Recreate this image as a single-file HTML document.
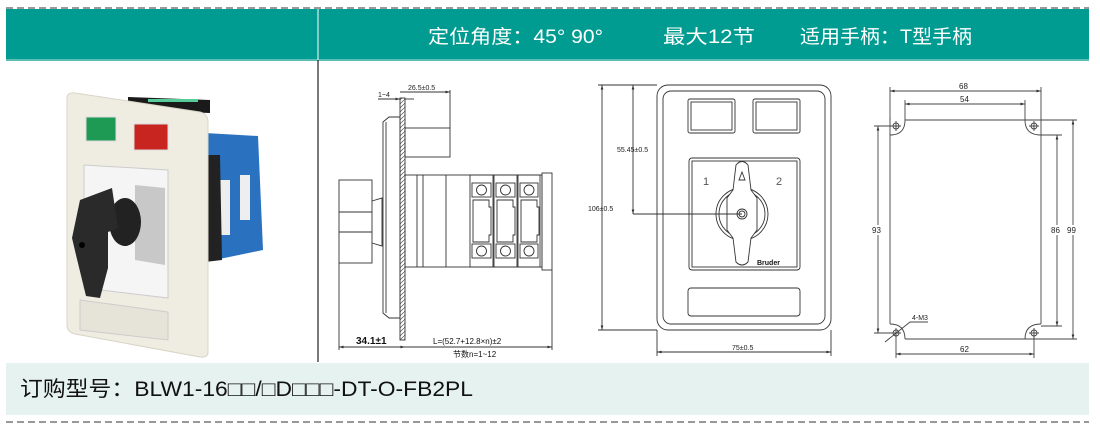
<!DOCTYPE html>
<html><head><meta charset="utf-8"><style>
html,body{margin:0;padding:0;background:#fff;width:1100px;height:428px;overflow:hidden}
svg{display:block}
text{font-family:"Liberation Sans","Noto Sans CJK SC",sans-serif}
</style></head><body>
<svg width="1100" height="428" viewBox="0 0 1100 428" xmlns="http://www.w3.org/2000/svg">
<defs>
<marker id="a" viewBox="0 0 10 10" refX="10" refY="5" markerWidth="5" markerHeight="5" orient="auto-start-reverse"><path d="M0,2L10,5L0,8z" fill="#333"/></marker>
<pattern id="h" width="4" height="4" patternUnits="userSpaceOnUse"><path d="M0,4L4,0" stroke="#555" stroke-width="0.7"/></pattern>
</defs>
<!-- header -->
<line x1="6" y1="8" x2="1089" y2="8" stroke="#999" stroke-width="2" stroke-dasharray="7,4"/>
<rect x="6" y="9" width="1083" height="51" fill="#009c91"/>
<rect x="6" y="59" width="1083" height="2" fill="#5bbdb4"/>
<line x1="318" y1="9" x2="318" y2="60" stroke="#fff" stroke-width="1"/>
<text x="428" y="43" fill="#fff" font-size="19" textLength="175" lengthAdjust="spacingAndGlyphs">定位角度：45°  90°</text>
<text x="663" y="43" fill="#fff" font-size="19" textLength="92" lengthAdjust="spacingAndGlyphs">最大12节</text>
<text x="800" y="43" fill="#fff" font-size="19" textLength="172" lengthAdjust="spacingAndGlyphs">适用手柄：T型手柄</text>
<line x1="318" y1="60" x2="318" y2="362" stroke="#222" stroke-width="1.2"/>
<!-- bottom band -->
<rect x="6" y="363" width="1083" height="52" fill="#e6f2f0"/>
<text x="20" y="396" fill="#111" font-size="21" textLength="453" lengthAdjust="spacingAndGlyphs">订购型号：BLW1-16□□/□D□□□-DT-O-FB2PL</text>
<line x1="6" y1="422" x2="1089" y2="422" stroke="#999" stroke-width="2" stroke-dasharray="7,4"/>

<!-- photo -->
<g>
<path d="M128,97 L210,100 L210,113 L128,110 z" fill="#1a1a1a"/>
<rect x="148" y="99" width="50" height="3" fill="#5c9"/>
<path d="M205,133 L258,136 L263,250 L205,262 z" fill="#2a72c0"/>
<rect x="218" y="180" width="12" height="55" fill="#eee"/>
<rect x="240" y="175" width="10" height="45" fill="#eee"/>
<path d="M205,155 L220,155 L222,260 L205,262 z" fill="#222"/>
<path d="M67,98 Q67,92 75,93 L200,112 Q208,114 208,122 L208,352 Q208,358 200,357 L75,334 Q67,332 67,325 z" fill="#efece2" stroke="#d8d4c6"/>
<rect x="86" y="117" width="30" height="24" fill="#1f9a55" stroke="#ddd"/>
<rect x="134" y="124" width="34" height="26" fill="#c82420" stroke="#ddd"/>
<path d="M84,165 L168,170 L168,298 L84,288 z" fill="#f5f5f5" stroke="#ccc"/>
<path d="M135,185 L165,188 L165,265 L135,260 z" fill="#aaa" opacity="0.6"/>
<ellipse cx="125" cy="222" rx="16" ry="24" fill="#222"/>
<path d="M80,200 L112,188 L118,228 L108,232 L108,268 L100,298 L86,296 L76,255 L72,238 z" fill="#2a2a2a"/>
<circle cx="82" cy="245" r="3" fill="#000"/>
<path d="M80,300 L168,312 L168,340 L80,330 z" fill="#e6e3d8" stroke="#ccc"/>
</g>

<!-- side view -->
<g stroke="#333" stroke-width="0.9" fill="none">
<rect x="400" y="98" width="5" height="242" fill="url(#h)"/>
<path d="M389,117 L400,117 L400,318 L389,318 L383,313 L383,122 z"/>
<line x1="386" y1="122" x2="386" y2="313"/>
<rect x="339" y="180" width="33" height="83"/>
<line x1="339" y1="212" x2="372" y2="212"/><line x1="339" y1="232" x2="372" y2="232"/>
<path d="M372,201 L382,198 L382,246 L372,243"/>
<rect x="405" y="128" width="45" height="29"/>
<rect x="405" y="175" width="137" height="92"/>
<rect x="542" y="173" width="10" height="97"/>
<line x1="417" y1="175" x2="417" y2="267"/><line x1="423" y1="175" x2="423" y2="267"/><line x1="446" y1="175" x2="446" y2="267"/>
<rect x="470" y="175" width="23" height="92"/><rect x="494" y="175" width="23" height="92"/><rect x="518" y="175" width="22" height="92"/>
<g>
<rect x="472" y="183" width="19" height="14"/><circle cx="481.5" cy="190" r="5"/>
<rect x="496" y="183" width="19" height="14"/><circle cx="505.5" cy="190" r="5"/>
<rect x="520" y="183" width="18" height="14"/><circle cx="529" cy="190" r="5"/>
<rect x="472" y="244" width="19" height="14"/><circle cx="481.5" cy="251" r="5"/>
<rect x="496" y="244" width="19" height="14"/><circle cx="505.5" cy="251" r="5"/>
<rect x="520" y="244" width="18" height="14"/><circle cx="529" cy="251" r="5"/>
<path d="M473,200 L489,200 L489,207 L491,207 L491,235 L489,235 L489,242 L473,242z"/>
<path d="M497,200 L513,200 L513,207 L515,207 L515,235 L513,235 L513,242 L497,242z"/>
<path d="M521,200 L537,200 L537,207 L539,207 L539,235 L537,235 L537,242 L521,242z"/>
</g>
<line x1="400" y1="92" x2="450" y2="92" marker-end="url(#a)"/>
<line x1="450" y1="90" x2="450" y2="128"/>
<line x1="378" y1="99" x2="400" y2="99" marker-end="url(#a)"/>
<line x1="405" y1="99" x2="414" y2="99"/>
<line x1="339" y1="263" x2="339" y2="350"/><line x1="552" y1="270" x2="552" y2="350"/>
<line x1="339" y1="347" x2="405" y2="347" marker-start="url(#a)" marker-end="url(#a)"/>
<line x1="405" y1="347" x2="552" y2="347" marker-end="url(#a)"/>
</g>
<g fill="#222" font-size="7"><text x="408" y="90">26.5±0.5</text><text x="378" y="97">1~4</text></g>
<text x="356" y="344" font-size="10" fill="#111" font-weight="bold">34.1±1</text>
<text x="433" y="344" font-size="8" fill="#111">L=(52.7+12.8×n)±2</text>
<text x="453" y="357" font-size="8" fill="#111">节数n=1~12</text>

<!-- front view -->
<g stroke="#333" stroke-width="0.9" fill="none">
<rect x="657" y="85" width="174" height="245" rx="11"/>
<rect x="663" y="91" width="162" height="233" rx="8"/>
<rect x="688" y="99" width="47" height="34" rx="2"/><rect x="691" y="102" width="41" height="28"/>
<rect x="753" y="99" width="47" height="34" rx="2"/><rect x="756" y="102" width="41" height="28"/>
<rect x="689" y="158" width="111" height="112" rx="3"/><rect x="692" y="161" width="105" height="106"/>
<rect x="688" y="288" width="112" height="28" rx="3"/>
<circle cx="742" cy="214" r="26"/><circle cx="742" cy="214" r="23"/>
<path d="M736,165 Q742,158 748,165 L751,190 L757,198 L757,230 L751,238 L748,262 Q742,268 736,262 L733,238 L727,230 L727,198 L733,190 z" fill="#fff"/>
<circle cx="742" cy="214" r="5"/><circle cx="742" cy="214" r="3"/>
<path d="M739,180 L742,172 L745,180 z"/>
<line x1="602" y1="85" x2="602" y2="330" marker-start="url(#a)" marker-end="url(#a)"/>
<line x1="598" y1="85" x2="657" y2="85"/><line x1="598" y1="330" x2="657" y2="330"/>
<line x1="633" y1="85" x2="633" y2="214" marker-start="url(#a)" marker-end="url(#a)"/>
<line x1="633" y1="214" x2="742" y2="214"/>
<line x1="657" y1="330" x2="657" y2="356"/><line x1="831" y1="330" x2="831" y2="356"/>
<line x1="657" y1="352" x2="831" y2="352" marker-start="url(#a)" marker-end="url(#a)"/>
</g>
<g fill="#222" font-size="7"><text x="617" y="152">55.45±0.5</text><text x="588" y="211">106±0.5</text><text x="732" y="350">75±0.5</text></g>
<text x="703" y="185" font-size="11" fill="#555">1</text><text x="776" y="185" font-size="11" fill="#555">2</text>
<text x="757" y="265" font-size="7" fill="#111" font-weight="bold">Bruder</text>

<!-- mounting -->
<g stroke="#444" stroke-width="0.9" fill="none">
<path d="M905,120 L1025,120 M1041,135 L1041,324 M1025,339 L905,339 M890,324 L890,135"/>
<path d="M890,135 L890,118 M905,120 Q905,135 890,135 M1025,120 Q1025,135 1041,135 M1041,324 Q1025,324 1025,339 M905,339 Q905,324 890,324"/>
<circle cx="896" cy="126" r="3"/><circle cx="1034" cy="126" r="3"/><circle cx="896" cy="333" r="3"/><circle cx="1034" cy="333" r="3"/>
<path d="M891,126h10M896,121v10M1029,126h10M1034,121v10M891,333h10M896,328v10M1029,333h10M1034,328v10"/>
<line x1="890" y1="120" x2="890" y2="87"/><line x1="1041" y1="135" x2="1041" y2="87"/>
<line x1="890" y1="91" x2="1041" y2="91" marker-start="url(#a)" marker-end="url(#a)"/>
<line x1="905" y1="120" x2="905" y2="100"/><line x1="1025" y1="120" x2="1025" y2="100"/>
<line x1="905" y1="104" x2="1025" y2="104" marker-start="url(#a)" marker-end="url(#a)"/>
<line x1="896" y1="336" x2="896" y2="358"/><line x1="1034" y1="336" x2="1034" y2="358"/>
<line x1="896" y1="354" x2="1034" y2="354" marker-start="url(#a)" marker-end="url(#a)"/>
<line x1="874" y1="126" x2="896" y2="126"/><line x1="874" y1="333" x2="896" y2="333"/>
<line x1="878" y1="126" x2="878" y2="333" marker-start="url(#a)" marker-end="url(#a)"/>
<line x1="1041" y1="135" x2="1062" y2="135"/><line x1="1041" y1="326" x2="1062" y2="326"/>
<line x1="1057" y1="135" x2="1057" y2="326" marker-start="url(#a)" marker-end="url(#a)"/>
<line x1="1025" y1="120" x2="1077" y2="120"/><line x1="1025" y1="339" x2="1077" y2="339"/>
<line x1="1073" y1="120" x2="1073" y2="339" marker-start="url(#a)" marker-end="url(#a)"/>
<path d="M885,342 L910,322 L928,322"/>
</g>
<g fill="#222" font-size="8"><text x="959" y="89">68</text><text x="960" y="102">54</text><text x="960" y="352">62</text>
<rect x="872" y="225" width="12" height="10" fill="#fff"/><text x="872" y="233">93</text>
<rect x="1051" y="225" width="12" height="10" fill="#fff"/><text x="1051" y="233">86</text>
<rect x="1067" y="225" width="12" height="10" fill="#fff"/><text x="1067" y="233">99</text>
<text x="912" y="320" font-size="7">4-M3</text></g>
</svg>
</body></html>
